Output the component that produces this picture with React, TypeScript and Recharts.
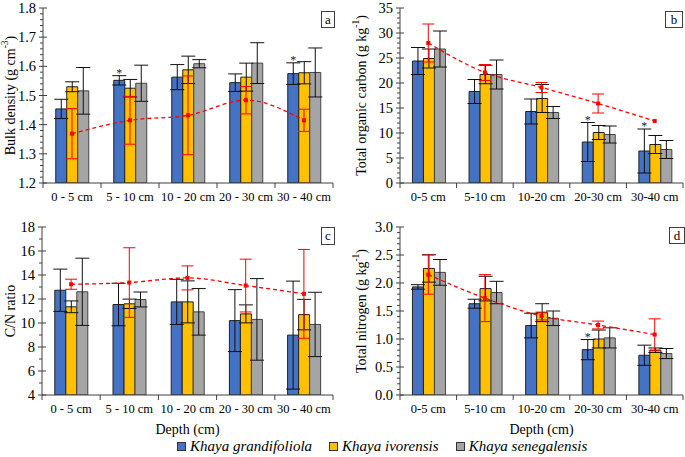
import React from 'react';
import { ComposedChart, Bar, Line, XAxis, YAxis, ErrorBar, LabelList, Label } from 'recharts';

const depthSpaced = ['0 - 5 cm', '5 - 10 cm', '10 - 20 cm', '20 - 30 cm', '30 - 40 cm'];
const depthTight = ['0-5 cm', '5-10 cm', '10-20 cm', '20-30 cm', '30-40 cm'];

// (a) bulk density, g cm-3
const bdGrand = [1.454, 1.552, 1.563, 1.544, 1.575];
const bdGrandSd = [0.033, 0.016, 0.043, 0.03, 0.037];
const bdIvor = [1.53, 1.525, 1.588, 1.563, 1.578];
const bdIvorSd = [0.017, 0.03, 0.047, 0.048, 0.038];
const bdSeneg = [1.516, 1.542, 1.609, 1.611, 1.579];
const bdSenegSd = [0.08, 0.062, 0.014, 0.07, 0.084];
const bdRef = [1.369, 1.415, 1.432, 1.484, 1.415];
const bdRefSd = [0.086, 0.082, 0.135, 0.047, 0.038];
const bdStars = [false, true, false, false, true];
const bdTicks = [1.2, 1.3, 1.4, 1.5, 1.6, 1.7, 1.8];

// (b) total organic carbon, g kg-1
const tocGrand = [24.4, 18.3, 14.3, 8.2, 6.4];
const tocGrandSd = [2.7, 2.4, 2.5, 3.9, 4.4];
const tocIvor = [24.9, 21.7, 16.9, 10.1, 7.7];
const tocIvorSd = [1.9, 1.85, 2.8, 1.4, 1.8];
const tocSeneg = [26.8, 21.7, 14.1, 9.7, 6.7];
const tocSenegSd = [3.6, 2.9, 1.2, 1.7, 1.8];
const tocRef = [28.0, 22.1, 19.1, 15.9, 12.4];
const tocRefSd = [3.8, 1.6, 1.0, 1.9, 0];
const tocStars = [false, false, false, true, true];
const tocTicks = [0, 5, 10, 15, 20, 25, 30, 35];

// (c) C/N ratio
const cnGrand = [12.73, 11.54, 11.76, 10.2, 8.99];
const cnGrandSd = [1.76, 1.77, 1.88, 2.58, 4.5];
const cnIvor = [11.35, 11.6, 11.76, 10.76, 10.7];
const cnIvorSd = [0.49, 0.39, 1.75, 0.75, 1.27];
const cnSeneg = [12.6, 11.96, 10.93, 10.3, 9.88];
const cnSenegSd = [2.8, 0.62, 1.94, 3.4, 2.68];
const cnRef = [13.23, 13.37, 13.76, 13.12, 12.43];
const cnRefSd = [0.42, 2.9, 1.0, 2.2, 3.7];
const cnStars = [false, false, false, false, false];
const cnTicks = [4, 6, 8, 10, 12, 14, 16, 18];

// (d) total nitrogen, g kg-1
const tnGrand = [1.93, 1.63, 1.24, 0.81, 0.71];
const tnGrandSd = [0.04, 0.08, 0.22, 0.18, 0.18];
const tnIvor = [2.26, 1.9, 1.47, 1.0, 0.8];
const tnIvorSd = [0.245, 0.22, 0.16, 0.16, 0.04];
const tnSeneg = [2.19, 1.83, 1.37, 1.02, 0.74];
const tnSenegSd = [0.23, 0.2, 0.13, 0.18, 0.09];
const tnRef = [2.15, 1.73, 1.41, 1.25, 1.08];
const tnRefSd = [0.35, 0.42, 0.07, 0.07, 0.28];
const tnStars = [false, false, false, true, false];
const tnTicks = [0, 0.5, 1.0, 1.5, 2.0, 2.5, 3.0];

const species = ['Khaya grandifoliola', 'Khaya ivorensis', 'Khaya senegalensis'];
const speciesColors = ['#4472C4', '#FFC000', '#A5A5A5'];

const FONT = '"Liberation Serif", "Times New Roman", serif';
const AXIS = '#404040';
const RED = '#FF0000';

function buildRows(cats: string[], g: number[], gSd: number[], i: number[], iSd: number[],
  s: number[], sSd: number[], r: number[], rSd: number[], stars: boolean[]) {
  return cats.map((c, k) => ({
    depth: c, g: g[k], gSd: gSd[k], i: i[k], iSd: iSd[k], s: s[k], sSd: sSd[k],
    r: r[k], rSd: rSd[k], star: stars[k],
  }));
}

const rowsA = buildRows(depthSpaced, bdGrand, bdGrandSd, bdIvor, bdIvorSd, bdSeneg, bdSenegSd, bdRef, bdRefSd, bdStars);
const rowsB = buildRows(depthTight, tocGrand, tocGrandSd, tocIvor, tocIvorSd, tocSeneg, tocSenegSd, tocRef, tocRefSd, tocStars);
const rowsC = buildRows(depthSpaced, cnGrand, cnGrandSd, cnIvor, cnIvorSd, cnSeneg, cnSenegSd, cnRef, cnRefSd, cnStars);
const rowsD = buildRows(depthTight, tnGrand, tnGrandSd, tnIvor, tnIvorSd, tnSeneg, tnSenegSd, tnRef, tnRefSd, tnStars);

type PanelProps = {
  rows: any[];
  majors: number[];
  minorStep: number;
  digits: number;
  title: string;
  sup: string;
  tail: string;
  left: number;
  top: number;
  width: number;
  height: number;
  margin: { top: number; right: number; bottom: number; left: number };
  yWidth: number;
  xHeight: number;
  titleX: number;
  xTitle?: boolean;
};

function Panel(p: PanelProps) {
  const min = p.majors[0];
  const max = p.majors[p.majors.length - 1];
  const n = Math.round((max - min) / p.minorStep);
  const allTicks = Array.from({ length: n + 1 }, (_, k) => +(min + k * p.minorStep).toFixed(4));
  const plotW = p.width - p.margin.left - p.margin.right - p.yWidth;
  const bw = plotW / p.rows.length;

  const yTick = (props: any) => {
    const { x, y, payload } = props;
    const v = payload.value;
    const major = p.majors.some(m => Math.abs(m - v) < 1e-6);
    return (
      <g>
        {major
          ? <line x1={x - 4} x2={x + 4} y1={y} y2={y} stroke={AXIS} />
          : <line x1={x - 3} x2={x} y1={y} y2={y} stroke={AXIS} />}
        {major && (
          <text x={x - 7} y={y} dy={5} textAnchor="end" fontSize={14.5} fontFamily={FONT} fill="#000">
            {v.toFixed(p.digits)}
          </text>
        )}
      </g>
    );
  };

  const xTick = (props: any) => {
    const { x, y, payload, index } = props;
    return (
      <g>
        <line x1={x - bw / 2} x2={x - bw / 2} y1={y} y2={y + 5} stroke={AXIS} />
        {index === p.rows.length - 1 && <line x1={x + bw / 2} x2={x + bw / 2} y1={y} y2={y + 5} stroke={AXIS} />}
        <text x={x} y={y} dy={18} textAnchor="middle" fontSize={12.5} fontFamily={FONT} fill="#000">
          {payload.value}
        </text>
      </g>
    );
  };

  const star = (props: any) => {
    const { x, y, width, height, index } = props;
    const row = p.rows[index];
    if (!row || !row.star) return null;
    const k = height / (row.g - min);
    const errTop = y - row.gSd * k;
    return (
      <text x={x + width / 2} y={errTop + 1} textAnchor="middle" fontSize={12} fontFamily={FONT} fill="#222">*</text>
    );
  };

  const yTitle = (props: any) => {
    const vb = props.viewBox;
    const cx = p.titleX;
    const cy = vb.y + vb.height / 2;
    return (
      <text x={cx} y={cy} transform={`rotate(-90 ${cx} ${cy})`} textAnchor="middle" dominantBaseline="central"
        fontSize={14} fontFamily={FONT} fill="#000">
        {p.title}
        {p.sup && <tspan dy={-5} fontSize={9.5}>{p.sup}</tspan>}
        <tspan dy={p.sup ? 5 : 0}>{p.tail}</tspan>
      </text>
    );
  };

  const xTitle = (props: any) => {
    const vb = props.viewBox;
    return (
      <text x={vb.x + vb.width / 2} y={vb.y + 34} textAnchor="middle" dominantBaseline="central"
        fontSize={14} fontFamily={FONT} fill="#000">Depth (cm)</text>
    );
  };

  const square = (props: any) => {
    const { cx, cy, index } = props;
    return <rect key={`sq-${index}`} x={cx - 2} y={cy - 2} width={4} height={4} fill={RED} />;
  };

  return (
    <div style={{ position: 'absolute', left: p.left, top: p.top }}>
      <ComposedChart width={p.width} height={p.height} data={p.rows} margin={p.margin}
        barCategoryGap="22%" barGap={0}>
        <XAxis dataKey="depth" height={p.xHeight} tickSize={0} tickMargin={0} tickLine={false}
          axisLine={{ stroke: AXIS }} tick={xTick} interval={0}>
          {p.xTitle && <Label content={xTitle} />}
        </XAxis>
        <YAxis type="number" domain={[min, max]} ticks={allTicks} interval={0} width={p.yWidth}
          tickSize={0} tickMargin={0} tickLine={false} axisLine={{ stroke: AXIS }} tick={yTick}
          allowDataOverflow>
          <Label content={yTitle} />
        </YAxis>
        <Bar dataKey="g" fill={speciesColors[0]} stroke="#222" strokeWidth={1} isAnimationActive={false}>
          <ErrorBar dataKey="gSd" width={7} stroke="#111" strokeWidth={1} />
          <LabelList dataKey="g" content={star} />
        </Bar>
        <Bar dataKey="i" fill={speciesColors[1]} stroke="#222" strokeWidth={1} isAnimationActive={false}>
          <ErrorBar dataKey="iSd" width={7} stroke="#111" strokeWidth={1} />
        </Bar>
        <Bar dataKey="s" fill={speciesColors[2]} stroke="#444" strokeWidth={1} isAnimationActive={false}>
          <ErrorBar dataKey="sSd" width={7} stroke="#111" strokeWidth={1} />
        </Bar>
        <Line dataKey="r" type="monotone" stroke={RED} strokeWidth={1.3} strokeDasharray="4 3"
          dot={square} activeDot={false} isAnimationActive={false}>
          <ErrorBar dataKey="rSd" width={6} stroke={RED} strokeWidth={1} />
        </Line>
      </ComposedChart>
    </div>
  );
}

function Tag({ text, left, top, w, h }: { text: string; left: number; top: number; w: number; h: number }) {
  return (
    <div style={{
      position: 'absolute', left, top, width: w, height: h, border: '1px solid #404040',
      fontFamily: FONT, fontSize: 13, lineHeight: `${h}px`, textAlign: 'center', background: '#fff',
    }}>{text}</div>
  );
}

export default function App() {
  return (
    <div style={{ position: 'absolute', left: 0, top: 0, width: 685, height: 457, background: '#fff', overflow: 'hidden' }}>
      <Panel rows={rowsA} majors={bdTicks} minorStep={0.02} digits={1}
        title="Bulk density (g cm" sup="-3" tail=")"
        left={0} top={0} width={345} height={215} margin={{ top: 8, right: 12, bottom: 0, left: 0 }}
        yWidth={43} xHeight={32} titleX={10} />
      <Panel rows={rowsB} majors={tocTicks} minorStep={1} digits={0}
        title="Total organic carbon (g kg" sup="-1" tail=")"
        left={345} top={0} width={340} height={215} margin={{ top: 8, right: 2, bottom: 0, left: 0 }}
        yWidth={55} xHeight={32} titleX={16} />
      <Panel rows={rowsC} majors={cnTicks} minorStep={1} digits={0}
        title="C/N ratio" sup="" tail=""
        left={0} top={215} width={345} height={230} margin={{ top: 12, right: 12, bottom: 15, left: 0 }}
        yWidth={42} xHeight={35} titleX={10} xTitle />
      <Panel rows={rowsD} majors={tnTicks} minorStep={0.1} digits={1}
        title="Total nitrogen (g kg" sup="-1" tail=")"
        left={345} top={215} width={340} height={230} margin={{ top: 12, right: 2, bottom: 15, left: 0 }}
        yWidth={55} xHeight={35} titleX={16} xTitle />
      <Tag text="a" left={321} top={11} w={12} h={15} />
      <Tag text="b" left={665} top={11} w={16} h={15} />
      <Tag text="c" left={321} top={227} w={12} h={16} />
      <Tag text="d" left={669} top={227} w={14} h={15} />
      <div style={{
        position: 'absolute', left: 177, top: 438, display: 'flex', alignItems: 'center',
        fontFamily: FONT, fontStyle: 'italic', fontSize: 15,
      }}>
        {species.map((s, k) => (
          <div key={s} style={{ display: 'flex', alignItems: 'center', marginRight: k < 2 ? 17 : 0 }}>
            <span style={{ display: 'inline-block', width: 7, height: 7, background: speciesColors[k], border: '1px solid #333', marginRight: 4 }} />
            <span>{s}</span>
          </div>
        ))}
      </div>
    </div>
  );
}
